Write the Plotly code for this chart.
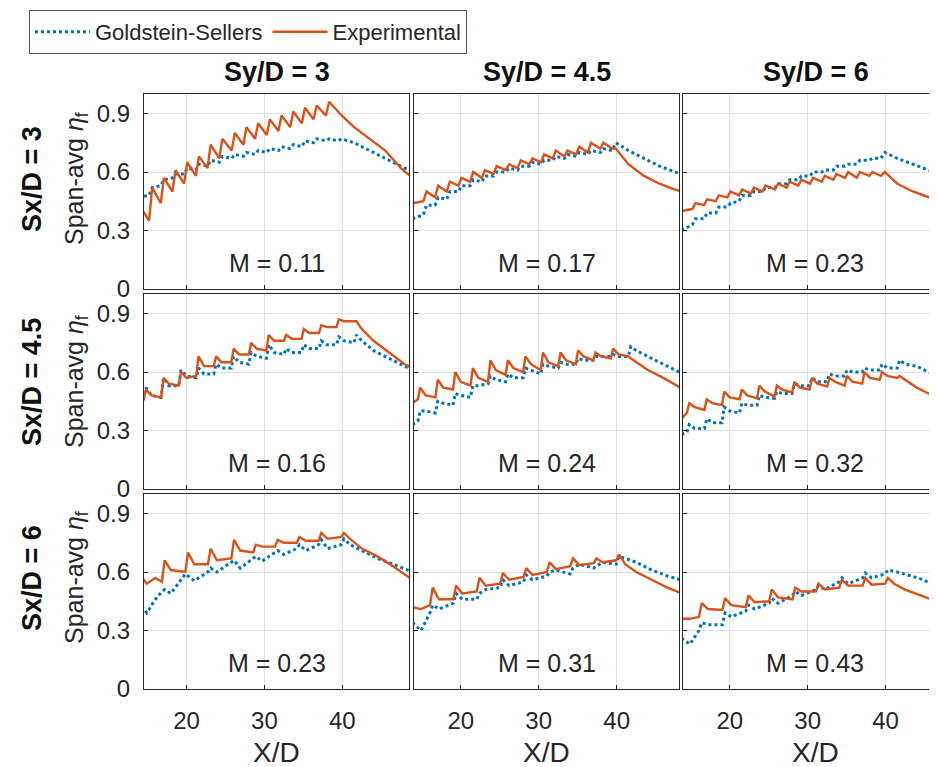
import plotly.graph_objects as go

# The page body adds an 8 px margin, so the figure is drawn 8 px smaller and
# every layout pixel below is given in screen pixels and shifted by OFF.
OFF = 8
W, H = 937 - OFF, 767 - OFF
FONT = "Liberation Sans, Arial, sans-serif"
BLUE = "#0072BD"
RED = "#D95319"
INK = "#262626"

# ---------------- data ----------------
col_titles = ["Sy/D = 3", "Sy/D = 4.5", "Sy/D = 6"]
row_titles = ["Sx/D = 3", "Sx/D = 4.5", "Sx/D = 6"]
m_values = [["0.11", "0.17", "0.23"], ["0.16", "0.24", "0.32"], ["0.23", "0.31", "0.43"]]
x_ticks = [20, 30, 40]
y_ticks = [0, 0.3, 0.6, 0.9]
y_tick_text = ["0", "0.3", "0.6", "0.9"]

x_row1 = [13.8, 15.2, 15.6, 16.7, 17.1, 18.2, 18.6, 19.7, 20.1, 21.2, 21.6, 22.7, 23.1, 24.2, 24.6,
          25.8, 26.2, 27.3, 27.7, 28.8, 29.2, 30.3, 30.7, 31.8, 32.2, 33.3, 33.7, 34.8, 35.2, 36.3,
          36.7, 37.9, 38.3, 39.4, 39.9, 41.5, 43.5, 45.5, 47.5, 49.0]
x_row2 = [13.8, 14.5, 14.8, 15.5, 16.75, 17.05, 17.75, 19.0, 19.3, 20.0, 21.25, 21.55, 22.25, 23.5,
          23.8, 24.5, 25.75, 26.05, 26.75, 28.0, 28.3, 29.0, 30.25, 30.55, 31.25, 32.5, 32.8, 33.5,
          34.75, 35.05, 35.75, 37.0, 37.3, 38.0, 39.25, 39.55, 40.25, 41.5, 41.8, 42.5, 44.0, 46.0,
          48.0, 49.0]
x_row3_a = [13.8, 14.9, 16.0, 16.85, 17.2, 18.0, 19.85, 20.2, 21.0, 22.75, 23.1, 23.9, 25.75, 26.1,
            26.9, 28.55, 28.9, 29.7, 31.35, 31.7, 32.5, 34.15, 34.5, 35.3, 36.95, 37.3, 38.1, 39.85,
            40.2, 41.0, 42.5, 44.5, 46.5, 49.0]
x_row3 = [13.8, 14.9, 16.05, 16.4, 17.2, 19.05, 19.4, 20.2, 22.05, 22.4, 23.2, 25.05, 25.4, 26.2,
          28.05, 28.4, 29.2, 31.05, 31.4, 32.2, 34.05, 34.4, 35.2, 37.05, 37.4, 38.2, 39.95, 40.3,
          41.1, 42.5, 44.5, 46.5, 49.0]

# Goldstein-Sellers (blue, dotted)
gs_11 = [0.47, 0.48, 0.52, 0.53, 0.56, 0.57, 0.59, 0.59, 0.62, 0.61, 0.64, 0.63, 0.66, 0.65, 0.68,
         0.67, 0.69, 0.68, 0.70, 0.69, 0.71, 0.70, 0.72, 0.71, 0.73, 0.72, 0.74, 0.73, 0.76, 0.75,
         0.77, 0.76, 0.77, 0.76, 0.77, 0.75, 0.71, 0.67, 0.63, 0.60]
gs_12 = [0.36, 0.38, 0.43, 0.43, 0.47, 0.46, 0.50, 0.50, 0.53, 0.53, 0.56, 0.55, 0.58, 0.58, 0.60,
         0.60, 0.62, 0.61, 0.63, 0.63, 0.65, 0.64, 0.66, 0.66, 0.68, 0.67, 0.69, 0.68, 0.70, 0.69,
         0.71, 0.70, 0.72, 0.71, 0.75, 0.71, 0.67, 0.63, 0.60, 0.58]
gs_13 = [0.30, 0.33, 0.36, 0.36, 0.39, 0.39, 0.42, 0.42, 0.44, 0.45, 0.48, 0.48, 0.50, 0.50, 0.52,
         0.52, 0.54, 0.54, 0.56, 0.56, 0.58, 0.58, 0.60, 0.60, 0.61, 0.61, 0.63, 0.63, 0.64, 0.64,
         0.66, 0.66, 0.67, 0.67, 0.70, 0.67, 0.64, 0.61, 0.59, 0.57]
gs_21 = [0.44, 0.46, 0.52, 0.48, 0.47, 0.57, 0.53, 0.53, 0.61, 0.58, 0.57, 0.62, 0.59, 0.59, 0.64,
         0.62, 0.62, 0.68, 0.65, 0.64, 0.70, 0.68, 0.67, 0.74, 0.70, 0.69, 0.72, 0.70, 0.70, 0.74,
         0.72, 0.72, 0.76, 0.74, 0.74, 0.78, 0.76, 0.75, 0.79, 0.76, 0.71, 0.67, 0.63, 0.61]
gs_22 = [0.33, 0.35, 0.40, 0.40, 0.39, 0.45, 0.44, 0.43, 0.49, 0.48, 0.47, 0.53, 0.53, 0.54, 0.58,
         0.56, 0.55, 0.59, 0.57, 0.57, 0.62, 0.61, 0.59, 0.64, 0.63, 0.62, 0.65, 0.64, 0.64, 0.67,
         0.66, 0.66, 0.68, 0.68, 0.68, 0.69, 0.68, 0.68, 0.73, 0.71, 0.68, 0.64, 0.60, 0.58]
gs_23 = [0.28, 0.29, 0.33, 0.31, 0.31, 0.36, 0.34, 0.34, 0.42, 0.40, 0.39, 0.44, 0.43, 0.43, 0.48,
         0.47, 0.465, 0.50, 0.49, 0.49, 0.54, 0.53, 0.53, 0.57, 0.55, 0.55, 0.59, 0.58, 0.58, 0.61,
         0.60, 0.60, 0.62, 0.61, 0.61, 0.64, 0.62, 0.62, 0.66, 0.64, 0.63, 0.59, 0.56, 0.55]
gs_31 = [0.45, 0.39, 0.46, 0.50, 0.51, 0.49, 0.59, 0.58, 0.555, 0.60, 0.62, 0.60, 0.65, 0.66, 0.62,
         0.67, 0.68, 0.655, 0.70, 0.71, 0.69, 0.72, 0.74, 0.71, 0.74, 0.765, 0.72, 0.74, 0.77, 0.74,
         0.71, 0.67, 0.64, 0.60]
gs_32 = [0.34, 0.30, 0.39, 0.43, 0.41, 0.44, 0.49, 0.46, 0.46, 0.49, 0.51, 0.52, 0.56, 0.53, 0.55,
         0.585, 0.56, 0.58, 0.60, 0.61, 0.59, 0.62, 0.64, 0.62, 0.63, 0.65, 0.64, 0.68, 0.67, 0.65,
         0.61, 0.58, 0.55]
gs_33 = [0.26, 0.23, 0.30, 0.34, 0.33, 0.33, 0.39, 0.37, 0.40, 0.43, 0.41, 0.44, 0.465, 0.44, 0.48,
         0.50, 0.48, 0.51, 0.53, 0.51, 0.55, 0.57, 0.54, 0.57, 0.595, 0.57, 0.59, 0.61, 0.605, 0.59,
         0.565, 0.53, 0.50]

# Experimental (red, solid)
ex_11 = [0.44, 0.35, 0.52, 0.44, 0.57, 0.50, 0.61, 0.54, 0.65, 0.58, 0.68, 0.62, 0.74, 0.67, 0.77,
         0.71, 0.80, 0.74, 0.83, 0.77, 0.85, 0.79, 0.87, 0.81, 0.89, 0.83, 0.91, 0.85, 0.93, 0.87,
         0.94, 0.89, 0.96, 0.91, 0.89, 0.83, 0.77, 0.71, 0.62, 0.57]
ex_12 = [0.44, 0.45, 0.50, 0.47, 0.53, 0.50, 0.55, 0.53, 0.57, 0.55, 0.60, 0.57, 0.61, 0.59, 0.63,
         0.61, 0.64, 0.62, 0.66, 0.64, 0.67, 0.65, 0.69, 0.67, 0.71, 0.68, 0.71, 0.69, 0.73, 0.70,
         0.75, 0.72, 0.75, 0.72, 0.72, 0.64, 0.58, 0.54, 0.51, 0.49]
ex_13 = [0.40, 0.41, 0.44, 0.43, 0.46, 0.45, 0.48, 0.47, 0.50, 0.48, 0.51, 0.49, 0.52, 0.50, 0.53,
         0.51, 0.54, 0.52, 0.55, 0.53, 0.56, 0.54, 0.57, 0.55, 0.58, 0.56, 0.59, 0.57, 0.60, 0.57,
         0.60, 0.58, 0.60, 0.58, 0.60, 0.54, 0.50, 0.47, 0.44, 0.42]
ex_21 = [0.45, 0.46, 0.51, 0.48, 0.47, 0.57, 0.54, 0.53, 0.60, 0.57, 0.58, 0.68, 0.63, 0.63, 0.68,
         0.65, 0.65, 0.72, 0.69, 0.69, 0.75, 0.72, 0.71, 0.79, 0.76, 0.76, 0.79, 0.77, 0.77, 0.82,
         0.80, 0.80, 0.84, 0.83, 0.83, 0.87, 0.86, 0.86, 0.86, 0.82, 0.76, 0.70, 0.64, 0.62]
ex_22 = [0.44, 0.46, 0.52, 0.48, 0.47, 0.56, 0.52, 0.51, 0.60, 0.55, 0.53, 0.62, 0.57, 0.55, 0.66,
         0.61, 0.585, 0.66, 0.62, 0.60, 0.68, 0.64, 0.61, 0.70, 0.65, 0.63, 0.70, 0.66, 0.64, 0.71,
         0.68, 0.66, 0.70, 0.68, 0.67, 0.72, 0.69, 0.68, 0.67, 0.65, 0.61, 0.57, 0.52, 0.50]
ex_23 = [0.36, 0.39, 0.44, 0.42, 0.405, 0.46, 0.44, 0.43, 0.50, 0.47, 0.46, 0.51, 0.48, 0.465, 0.53,
         0.50, 0.475, 0.53, 0.51, 0.495, 0.55, 0.52, 0.51, 0.57, 0.54, 0.525, 0.57, 0.55, 0.53, 0.58,
         0.55, 0.54, 0.60, 0.57, 0.56, 0.60, 0.58, 0.57, 0.58, 0.56, 0.52, 0.48, 0.45, 0.43]
ex_31 = [0.60, 0.54, 0.57, 0.55, 0.66, 0.61, 0.60, 0.70, 0.64, 0.64, 0.72, 0.66, 0.67, 0.765, 0.71,
         0.70, 0.74, 0.73, 0.73, 0.765, 0.75, 0.75, 0.78, 0.76, 0.76, 0.80, 0.77, 0.78, 0.80, 0.77,
         0.72, 0.68, 0.63, 0.56]
ex_32 = [0.42, 0.41, 0.43, 0.52, 0.46, 0.46, 0.53, 0.49, 0.50, 0.57, 0.53, 0.54, 0.595, 0.56, 0.575,
         0.62, 0.585, 0.60, 0.65, 0.615, 0.63, 0.67, 0.635, 0.645, 0.67, 0.65, 0.66, 0.69, 0.64, 0.60,
         0.56, 0.52, 0.48]
ex_33 = [0.36, 0.36, 0.37, 0.44, 0.41, 0.405, 0.465, 0.43, 0.42, 0.48, 0.445, 0.45, 0.51, 0.47, 0.46,
         0.52, 0.50, 0.50, 0.54, 0.51, 0.52, 0.56, 0.53, 0.53, 0.57, 0.535, 0.54, 0.57, 0.54, 0.51,
         0.48, 0.45, 0.42]

panel_x = [[x_row1, x_row1, x_row1], [x_row2, x_row2, x_row2], [x_row3_a, x_row3, x_row3]]
panel_gs = [[gs_11, gs_12, gs_13], [gs_21, gs_22, gs_23], [gs_31, gs_32, gs_33]]
panel_ex = [[ex_11, ex_12, ex_13], [ex_21, ex_22, ex_23], [ex_31, ex_32, ex_33]]

# ---------------- layout geometry (screen pixels) ----------------
cols_px = [(144, 409), (414, 679), (683, 937)]
rows_px = [(94, 289), (294, 489), (494, 689)]
x_ranges = [[14.55, 48.55], [14.0, 48.0], [14.0, 46.6]]
x_full_center = [31.55, 31.0, 31.0]
col_centers = [276.5, 546.5, 815.5]

def fx(px):
    return (px - OFF) / W

def fy(py):
    return 1 - (py - OFF) / H

fig = go.Figure()
layout = dict(
    width=W, height=H, margin=dict(l=0, r=0, t=0, b=0, autoexpand=False),
    paper_bgcolor="white", plot_bgcolor="white",
    font=dict(family=FONT, color=INK),
    showlegend=True,
    legend=dict(x=fx(29), y=fy(10), xanchor="left", yanchor="top", orientation="h",
                bgcolor="white", bordercolor="#555555", borderwidth=1,
                font=dict(size=22, color=INK, family=FONT), itemwidth=55,
                traceorder="normal"),
)
annotations = []

for r in range(3):
    for c in range(3):
        k = r * 3 + c + 1
        sx = "" if k == 1 else str(k)
        xa, ya = "x" + sx, "y" + sx
        fig.add_trace(go.Scatter(
            x=panel_x[r][c], y=panel_gs[r][c], mode="lines", name="Goldstein-Sellers",
            line=dict(color=BLUE, width=3, dash="dot"), xaxis=xa, yaxis=ya,
            showlegend=(k == 1), legendgroup="gs"))
        fig.add_trace(go.Scatter(
            x=panel_x[r][c], y=panel_ex[r][c], mode="lines", name="Experimental",
            line=dict(color=RED, width=2.4), xaxis=xa, yaxis=ya,
            showlegend=(k == 1), legendgroup="ex"))
        layout["xaxis" + sx] = dict(
            domain=[fx(cols_px[c][0]), fx(cols_px[c][1])], anchor=ya, range=x_ranges[c],
            tickvals=x_ticks, showticklabels=(r == 2), ticks="inside", ticklen=4,
            tickcolor=INK, tickfont=dict(size=24, color=INK, family=FONT),
            ticklabelstandoff=10,
            showgrid=True, gridcolor="#DFDFDF", gridwidth=1, zeroline=False,
            showline=True, linecolor=INK, linewidth=1.3, mirror=True, automargin=False)
        layout["yaxis" + sx] = dict(
            domain=[fy(rows_px[r][1]), fy(rows_px[r][0])], anchor=xa, range=[0, 1],
            tickvals=y_ticks, ticktext=y_tick_text, showticklabels=(c == 0),
            ticks="inside", ticklen=4, tickcolor=INK,
            tickfont=dict(size=24, color=INK, family=FONT), ticklabelstandoff=8,
            showgrid=True, gridcolor="#DFDFDF", gridwidth=1, zeroline=False,
            showline=True, linecolor=INK, linewidth=1.3, mirror=(c < 2), automargin=False)
        annotations.append(dict(
            x=x_full_center[c], y=0.135, xref=xa, yref=ya, text="M = " + m_values[r][c],
            showarrow=False, font=dict(size=25, color=INK, family=FONT),
            xanchor="center", yanchor="middle"))

# column titles and x-axis labels
for c in range(3):
    annotations.append(dict(x=fx(col_centers[c]), y=fy(72), xref="paper", yref="paper",
                            text="<b>" + col_titles[c] + "</b>", showarrow=False,
                            font=dict(size=27, color="#111111", family=FONT),
                            xanchor="center", yanchor="middle"))
    annotations.append(dict(x=fx(col_centers[c]), y=fy(752), xref="paper", yref="paper",
                            text="X/D", showarrow=False,
                            font=dict(size=28, color=INK, family=FONT),
                            xanchor="center", yanchor="middle"))

# row titles and y labels
row_label_y = [179, 382, 578]
for r in range(3):
    annotations.append(dict(x=fx(32), y=fy(row_label_y[r]), xref="paper", yref="paper",
                            text="<b>" + row_titles[r] + "</b>", showarrow=False, textangle=-90,
                            font=dict(size=27, color="#111111", family=FONT),
                            xanchor="center", yanchor="middle"))
    annotations.append(dict(x=fx(76), y=fy(row_label_y[r]), xref="paper", yref="paper",
                            text="Span-avg <i>η</i><sub>f</sub>", showarrow=False, textangle=-90,
                            font=dict(size=25, color=INK, family=FONT),
                            xanchor="center", yanchor="middle"))

layout["annotations"] = annotations
fig.update_layout(**layout)
fig.write_html("out.html")
